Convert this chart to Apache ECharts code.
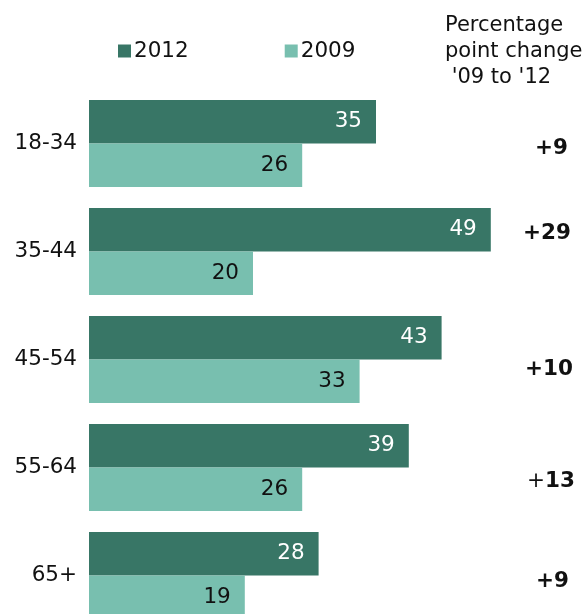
<!DOCTYPE html>
<html>
<head>
<meta charset="utf-8">
<script src="https://cdn.jsdelivr.net/npm/echarts@6/dist/echarts.min.js"></script>
<style>
  html, body { margin: 0; padding: 0; background: #fff; }
  #main { width: 585px; height: 614px; }
</style>
</head>
<body>
<div id="main"></div>
<script>
// age groups, top to bottom
const ageGroups = ['18-34', '35-44', '45-54', '55-64', '65+']
const values2012 = [35, 49, 43, 39, 28]
const values2009 = [26, 20, 33, 26, 19]
// percentage point change '09 to '12
const changes = ['+9', '+29', '+10', '+13', '+9']

const FONT = '"DejaVu Sans", Verdana, sans-serif'
const FS = 21.5
const chart = echarts.init(document.getElementById('main'))

// where the change labels sit (they don't line up with the bars in the original)
const changeY = [147, 232, 368, 480, 580]
const changeRight = [17, 14, 12, 10, 16]
const changeText = changes.map((c, i) => {
  // the +13 has a plain plus sign
  const txt = i === 3 ? '{plain|+}{b|13}' : '{b|' + c + '}'
  return {
    type: 'text',
    right: changeRight[i],
    top: changeY[i] - 10,
    style: {
      text: txt,
      textAlign: 'right',
      rich: {
        b: { fontFamily: FONT, fontSize: FS, fontWeight: 'bold', fill: '#111' },
        plain: { fontFamily: FONT, fontSize: FS, fontWeight: 'normal', fill: '#111' }
      }
    }
  }
})

chart.setOption({
  animation: false,
  textStyle: { fontFamily: FONT },
  legend: {
    left: 118,
    top: 40,
    padding: 0,
    itemGap: 96,
    itemWidth: 13,
    itemHeight: 13,
    icon: 'rect',
    textStyle: { fontSize: FS, color: '#111', fontFamily: FONT, padding: [0, 0, 0, -2] },
    data: ['2012', '2009']
  },
  graphic: [
    {
      type: 'text',
      left: 445,
      top: 13,
      style: {
        text: "Percentage\npoint change\n '09 to '12",
        fontFamily: FONT,
        fontSize: 21,
        lineHeight: 26,
        fill: '#111'
      }
    }
  ].concat(changeText),
  grid: {
    left: 89,
    right: 4,
    top: 89.5,
    height: 540,
    outerBoundsMode: 'none'
  },
  xAxis: {
    type: 'value',
    min: 0,
    max: 60,
    show: false
  },
  yAxis: {
    type: 'category',
    inverse: true,
    data: ageGroups,
    axisLine: { show: false },
    axisTick: { show: false },
    axisLabel: { fontSize: FS, color: '#111', margin: 12, fontFamily: FONT }
  },
  series: [
    {
      name: '2012',
      type: 'bar',
      data: values2012,
      barWidth: 43.5,
      barGap: 0,
      itemStyle: { color: '#387666' },
      label: {
        show: true,
        position: 'insideRight',
        distance: 14,
        fontSize: FS,
        color: '#fff',
        fontFamily: FONT
      }
    },
    {
      name: '2009',
      type: 'bar',
      data: values2009,
      barWidth: 43.5,
      barGap: 0,
      itemStyle: { color: '#78bfaf' },
      label: {
        show: true,
        position: 'insideRight',
        distance: 14,
        fontSize: FS,
        color: '#111',
        fontFamily: FONT
      }
    }
  ]
})
</script>
</body>
</html>
